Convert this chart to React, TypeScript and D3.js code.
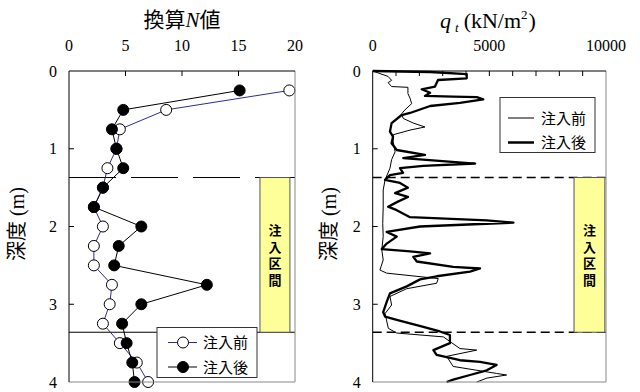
import React from 'react'
import { scaleLinear, line } from 'd3'

// SPT converted N values (depth every 0.25 m)
const sptDepth = [0.25, 0.5, 0.75, 1.0, 1.25, 1.5, 1.75, 2.0, 2.25, 2.5, 2.75, 3.0, 3.25, 3.5, 3.75, 4.0]
const nBefore = [19.5, 8.6, 4.5, 4.2, 3.4, 3.0, 2.2, 3.0, 2.2, 2.2, 3.8, 3.6, 3.0, 4.5, 6.0, 7.0]
const nAfter = [15.1, 4.8, 3.8, 4.2, 4.8, 3.0, 2.2, 6.4, 4.4, 4.0, 12.2, 6.4, 4.7, 5.1, 5.6, 5.8]

// CPT qt before injection
const cptBeforeDepth = [0, 0.07, 0.12, 0.15, 0.2, 0.21, 0.29, 0.35, 0.42, 0.5, 0.55, 0.61, 0.67, 0.72, 0.76, 0.82, 0.91, 1.04, 1.14, 1.25, 1.4, 1.53, 1.75, 1.96, 2.13, 2.3, 2.43, 2.56, 2.6, 2.67, 2.73, 2.8, 2.9, 3.01, 3.12, 3.31, 3.37, 3.42, 3.57, 3.59, 3.67, 3.8, 3.89, 3.91, 3.95, 4.0]
const cptBeforeQt = [0, 660, 810, 660, 810, 1510, 1510, 1600, 1670, 1380, 1240, 1310, 1740, 2240, 1600, 880, 880, 960, 810, 740, 530, 450, 450, 430, 450, 390, 450, 310, 600, 2810, 2740, 1460, 740, 810, 530, 670, 1030, 3030, 3740, 4460, 3170, 3450, 5310, 5740, 4890, 4460]

// CPT qt after injection
const cptAfterDepth = [0, 0.013, 0.04, 0.094, 0.116, 0.2, 0.235, 0.28, 0.32, 0.33, 0.335, 0.364, 0.41, 0.45, 0.54, 0.566, 0.67, 0.78, 0.845, 0.93, 1.016, 1.08, 1.12, 1.19, 1.22, 1.25, 1.31, 1.34, 1.4, 1.44, 1.5, 1.57, 1.62, 1.68, 1.745, 1.79, 1.88, 1.92, 1.95, 2.0, 2.07, 2.13, 2.22, 2.29, 2.32, 2.345, 2.39, 2.45, 2.52, 2.54, 2.58, 2.64, 2.68, 2.77, 2.86, 2.97, 3.1, 3.16, 3.2, 3.29, 3.35, 3.395, 3.5, 3.59, 3.65, 3.72, 3.74, 3.78, 3.85, 3.91, 3.97, 4.0]
const cptAfterQt = [0, 2460, 4030, 4030, 2800, 2670, 2100, 2460, 2240, 3440, 4460, 4740, 3740, 2460, 1600, 1240, 810, 740, 870, 810, 1030, 2240, 1310, 4390, 2170, 1170, 1300, 740, 530, 1170, 1510, 960, 1510, 1080, 660, 1030, 1600, 4890, 6030, 2030, 600, 1030, 600, 390, 1600, 2460, 1740, 1890, 3450, 4600, 4170, 2740, 2030, 1460, 740, 600, 450, 530, 1030, 2170, 2880, 3310, 3310, 2600, 2740, 3740, 4600, 5310, 4890, 4170, 3450, 3170]

const nTicks = [0, 5, 10, 15, 20]
const qtTicks = [0, 5000, 10000]
const depthTicks = [0, 1, 2, 3, 4]
const legendLabels = ['注入前', '注入後']
const zoneDepth = [1.37, 3.36]
const zoneLabel = '注入区間'

const serif = '"Liberation Serif", "Times New Roman", serif'
const jp = '"Noto Sans CJK JP", sans-serif'

const top = 71
const bottom = 382
const yScale = scaleLinear().domain([0, 4]).range([top, bottom])
const xN = scaleLinear().domain([0, 20]).range([69, 295])
const xQ = scaleLinear().domain([0, 10000]).range([372.7, 606])

const ZoneBox = ({ x0, x1 }: { x0: number; x1: number }) => {
  const y0 = yScale(zoneDepth[0])
  const y1 = yScale(zoneDepth[1])
  const cx = (x0 + x1) / 2
  return (
    <g>
      <rect x={x0} y={y0} width={x1 - x0} height={y1 - y0} fill="#ffff99" stroke="#555" strokeWidth={1} />
      <text x={cx} y={224} fontFamily={jp} fontWeight="bold" fontSize={13}
        style={{ writingMode: 'vertical-rl', letterSpacing: '3.5px' }}>{zoneLabel}</text>
    </g>
  )
}

const DepthAxis = ({ x0, x1, labelX }: { x0: number; x1: number; labelX: number }) => (
  <g>
    {depthTicks.map(d => (
      <g key={d}>
        {d > 0 && d < 4 && <line x1={x0} x2={x0 + 5} y1={yScale(d)} y2={yScale(d)} stroke="#000" />}
        <text x={x0 - 12} y={yScale(d) + 5.5} textAnchor="end" fontFamily={serif} fontSize={16}>{d}</text>
      </g>
    ))}
    <line x1={x1} x2={x1} y1={top} y2={bottom} stroke="#888" />
    <line x1={x0} x2={x1} y1={bottom} y2={bottom} stroke="#888" />
    <line x1={x0} x2={x0} y1={top} y2={bottom} stroke="#000" />
    <line x1={x0} x2={x1} y1={top} y2={top} stroke="#000" />
    <text transform={`translate(${labelX},224) rotate(-90)`} textAnchor="middle" fontSize={20}>
      <tspan fontFamily={jp}>深度</tspan>
      <tspan fontFamily={serif}> (m)</tspan>
    </text>
  </g>
)

export default function App() {
  const nLine = line<number>().x(v => xN(v)).y((_, i) => yScale(sptDepth[i]))
  const qBefore = line<number>().x(v => xQ(v)).y((_, i) => yScale(cptBeforeDepth[i]))
  const qAfter = line<number>().x(v => xQ(v)).y((_, i) => yScale(cptAfterDepth[i]))

  return (
    <svg width={640} height={392} style={{ position: 'absolute', left: 0, top: 0, background: '#fff' }}>
      {/* ---- left panel: N value ---- */}
      <text x={182} y={27} textAnchor="middle" fontSize={21}>
        <tspan fontFamily={jp}>換算</tspan>
        <tspan fontFamily={serif} fontStyle="italic">N</tspan>
        <tspan fontFamily={jp}>値</tspan>
      </text>
      {nTicks.map(t => (
        <g key={t}>
          {t > 0 && t < 20 && <line x1={xN(t)} x2={xN(t)} y1={top} y2={top + 5} stroke="#000" />}
          <text x={xN(t)} y={51} textAnchor="middle" fontFamily={serif} fontSize={16}>{t}</text>
        </g>
      ))}
      <line x1={xN(0)} x2={xN(20)} y1={yScale(zoneDepth[0])} y2={yScale(zoneDepth[0])} stroke="#000" strokeDasharray="47 15" />
      <line x1={xN(0)} x2={xN(20)} y1={yScale(zoneDepth[1])} y2={yScale(zoneDepth[1])} stroke="#000" />
      <ZoneBox x0={xN(16.9)} x1={xN(19.55)} />
      <path d={nLine(nBefore) ?? ''} fill="none" stroke="#2b2b9a" strokeWidth={1} />
      <path d={nLine(nAfter) ?? ''} fill="none" stroke="#000" strokeWidth={1} />
      {nBefore.map((v, i) => (
        <circle key={'b' + i} cx={xN(v)} cy={yScale(sptDepth[i])} r={5.5} fill="#fff" stroke="#000" />
      ))}
      {nAfter.map((v, i) => (
        <circle key={'a' + i} cx={xN(v)} cy={yScale(sptDepth[i])} r={5.5} fill="#000" stroke="#000" />
      ))}
      <DepthAxis x0={xN(0)} x1={xN(20)} labelX={24} />
      <g>
        <rect x={157} y={327.5} width={100} height={50} fill="#fff" stroke="#333" />
        {legendLabels.map((l, i) => {
          const y = 342.5 + i * 24.5
          return (
            <g key={l}>
              <line x1={168} x2={197} y1={y} y2={y} stroke={i === 0 ? '#2b2b9a' : '#000'} />
              <circle cx={183} cy={y} r={5.5} fill={i === 0 ? '#fff' : '#000'} stroke="#000" />
              <text x={203} y={y + 5.5} fontFamily={jp} fontSize={15}>{l}</text>
            </g>
          )
        })}
      </g>

      {/* ---- right panel: cone resistance ---- */}
      <text x={440} y={28} fontSize={22} fontFamily={serif}>
        <tspan fontStyle="italic">q</tspan>
        <tspan fontSize={13} fontStyle="italic" dx={4} dy={4}>t</tspan>
        <tspan dx={5} dy={-4}>(kN/m</tspan>
        <tspan fontSize={13} dy={-9}>2</tspan>
        <tspan dx={1} dy={9}>)</tspan>
      </text>
      {qtTicks.map(t => (
        <text key={t} x={xQ(t)} y={51} textAnchor="middle" fontFamily={serif} fontSize={16}>{t}</text>
      ))}
      {xQ.ticks(10).filter(t => t > 0 && t < 10000).map(t => (
        <line key={t} x1={xQ(t)} x2={xQ(t)} y1={top} y2={top + 5} stroke="#000" />
      ))}
      <path d={qBefore(cptBeforeQt) ?? ''} fill="none" stroke="#000" strokeWidth={1} />
      <path d={qAfter(cptAfterQt) ?? ''} fill="none" stroke="#000" strokeWidth={2.3} strokeLinejoin="round" />
      {zoneDepth.map(d => (
        <line key={d} x1={xQ(0)} x2={xQ(10000)} y1={yScale(d)} y2={yScale(d)} stroke="#000" strokeWidth={1.3} strokeDasharray="9 5" />
      ))}
      <ZoneBox x0={xQ(8630)} x1={xQ(9950)} />
      <DepthAxis x0={xQ(0)} x1={xQ(10000)} labelX={336} />
      <g>
        <rect x={500} y={97.5} width={95} height={55} fill="#fff" stroke="#333" />
        {legendLabels.map((l, i) => {
          const y = 118 + i * 24.5
          return (
            <g key={l}>
              <line x1={508} x2={534} y1={y} y2={y} stroke="#000" strokeWidth={i === 0 ? 1 : 2.5} />
              <text x={541} y={y + 5.5} fontFamily={jp} fontSize={15}>{l}</text>
            </g>
          )
        })}
      </g>
    </svg>
  )
}
